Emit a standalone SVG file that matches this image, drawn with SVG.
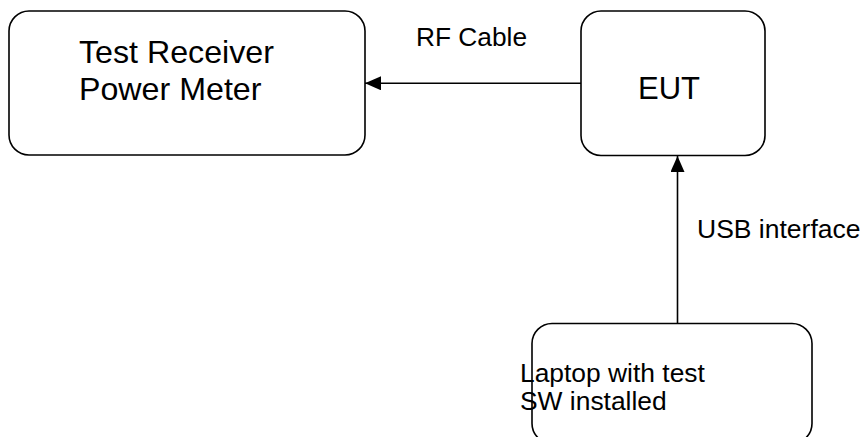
<svg xmlns="http://www.w3.org/2000/svg" width="864" height="437" viewBox="0 0 864 437">
<style>
.box{fill:#fff;stroke:#000;stroke-width:1.6}
.t{font-family:"Liberation Sans",Arial,sans-serif;fill:#000}
.c{stroke:#000;stroke-width:1.6;fill:none}
</style>
<defs>
<marker id="ah" viewBox="0 0 16 14" refX="16" refY="7" markerWidth="16" markerHeight="14" markerUnits="userSpaceOnUse" orient="auto">
<path d="M0,0 L16,7 L0,14 Z" fill="#000"/>
</marker>
</defs>
<rect width="864" height="437" fill="#fff"/>
<g id="receiver">
<rect class="box" x="9" y="11" width="356" height="144" rx="20"/>
<text class="t" x="79" y="63" font-size="32.2">Test Receiver</text>
<text class="t" x="79" y="100" font-size="32.2">Power Meter</text>
</g>
<g id="eut">
<rect class="box" x="581" y="11" width="184" height="144.5" rx="20"/>
<text class="t" x="638" y="99" font-size="31">EUT</text>
</g>
<g id="laptop">
<rect class="box" x="532" y="323.5" width="280" height="120" rx="20"/>
<text class="t" x="520" y="382" font-size="26.4">Laptop with test</text>
<text class="t" x="520" y="410" font-size="26.4">SW installed</text>
</g>
<g id="connectors">
<line class="c" x1="581" y1="83.3" x2="365" y2="83.3" marker-end="url(#ah)"/>
<text class="t" x="416" y="46" font-size="26.3">RF Cable</text>
<line class="c" x1="677.5" y1="323.5" x2="677.5" y2="156" marker-end="url(#ah)"/>
<text class="t" x="697" y="238" font-size="26.5">USB interface</text>
</g>
</svg>
